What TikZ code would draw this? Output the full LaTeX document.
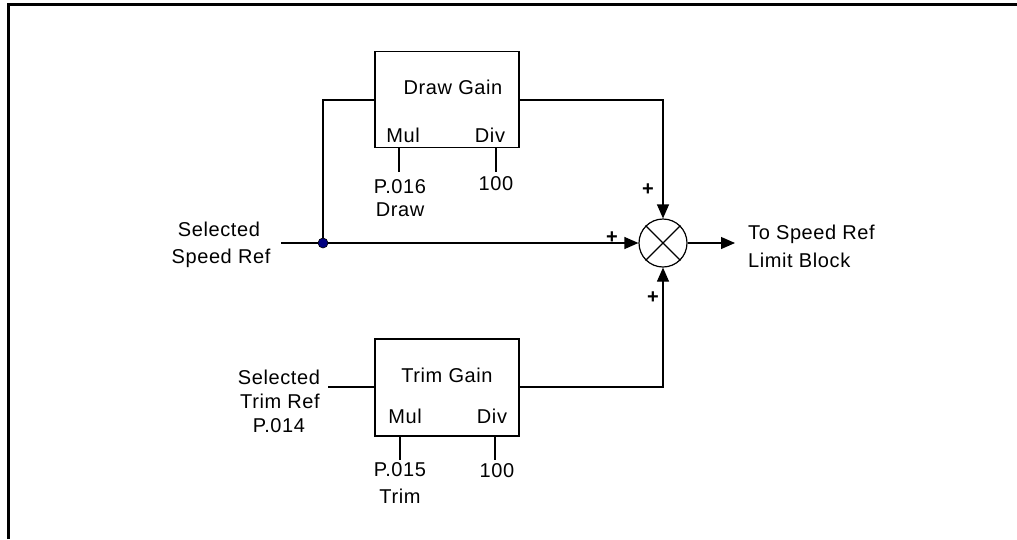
\documentclass[tikz,border=0pt]{standalone}
\usepackage{fontspec}
\setmainfont[LetterSpace=3]{Liberation Sans}
\usetikzlibrary{arrows.meta}
\definecolor{dotblue}{RGB}{0,0,128}
\begin{document}
\begin{tikzpicture}[x=1pt,y=-1pt,
  lbl/.style={font=\fontsize{20}{24}\selectfont, inner sep=0pt, anchor=base},
  lblw/.style={lbl, anchor=base west},
  plus/.style={lbl, font=\fontsize{20}{24}\selectfont\bfseries},
  blk/.style={draw, line width=1.2pt, minimum width=144pt, inner sep=0pt},
  wire/.style={line width=1.2pt},
  arr/.style={wire, -{Triangle[length=14pt,width=12pt]}}]
\useasboundingbox (0,0) rectangle (1017,539);
\draw[line width=3pt] (8.5,539) -- (8.5,4.5) -- (1017,4.5);

% blocks
\node[blk, minimum height=96pt] (dg) at (447,99.5) {};
\node[blk, minimum height=97pt] (tg) at (447,387.5) {};
\node[draw, circle, line width=1.2pt, minimum size=48pt, inner sep=0pt] (sum) at (663,243) {};
\draw[wire] (sum.north east) -- (sum.south west);
\draw[wire] (sum.north west) -- (sum.south east);

% block texts
\node[lbl] (dgt) at (453,94) {Draw Gain};
\node[lbl] (dmul) at (403,142) {Mul};
\node[lbl] (ddiv) at (490,142) {Div};
\node[lbl] (tgt) at (447,382) {Trim Gain};
\node[lbl] (tmul) at (405,423) {Mul};
\node[lbl] (tdiv) at (492,423) {Div};

% parameter labels
\node[lbl] (p16) at (400,193) {P.016};
\node[lbl] (p16b) at (400,216) {Draw};
\node[lbl] (d100) at (496,190) {100};
\node[lbl] (p15) at (400,476) {P.015};
\node[lbl] (p15b) at (400,503) {Trim};
\node[lbl] (t100) at (497,477) {100};

% input / output labels
\node[lbl] (ssr1) at (219,236) {Selected};
\node[lbl] (ssr2) at (221,263) {Speed Ref};
\node[lbl] (str1) at (279,384) {Selected};
\node[lbl] (str2) at (280,408) {Trim Ref};
\node[lbl] (str3) at (279,432) {P.014};
\node[lblw] (out1) at (748,239) {To Speed Ref};
\node[lblw] (out2) at (748,267) {Limit Block};

% plus signs
\node[plus] (pt) at (648,195) {+};
\node[plus] (pl) at (612,243) {+};
\node[plus] (pb) at (653,303) {+};

% coordinates
\coordinate (inS) at (281,243);
\coordinate (tap) at (323,243);
\coordinate (inT) at (328,387);
\coordinate (dmS) at (399,172);
\coordinate (ddS) at (496,172);
\coordinate (tmS) at (400,460);
\coordinate (tdS) at (495,460);
\coordinate (outE) at (735,243);

% wires
\draw[arr] (inS) -- (sum.west);
\draw[wire] (tap) |- (dg.west |- 0,100);
\draw[arr] (dg.east |- 0,100) -| (sum.north);
\draw[wire] (inT) -- (tg.west |- inT);
\draw[arr] (tg.east |- inT) -| (sum.south);
\draw[arr] (sum.east) -- (outE);
\draw[wire] (dg.south -| dmS) -- (dmS);
\draw[wire] (dg.south -| ddS) -- (ddS);
\draw[line width=2pt] (tg.south -| tmS) -- (tmS);
\draw[line width=2pt] (tg.south -| tdS) -- (tdS);

\fill[dotblue, draw=black, line width=0.6pt] (tap) circle (5pt);
\end{tikzpicture}
\end{document}
